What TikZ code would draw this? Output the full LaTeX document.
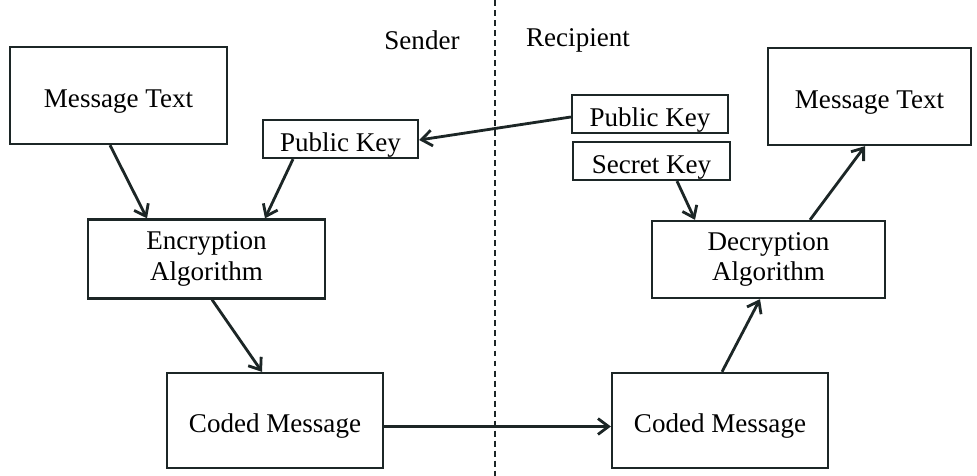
\documentclass[tikz,border=0pt]{standalone}
\usepackage{fontspec}
\setmainfont{Liberation Serif}
\usepackage{xcolor}
\usetikzlibrary{arrows.meta}

\definecolor{ink}{RGB}{28,38,38}

\begin{document}
\begin{tikzpicture}[x=0.02cm,y=-0.02cm,->,>={Straight Barb[length=6pt,width=9pt]},line width=1.6pt,draw=ink]
    \tikzstyle{box}=[rectangle,draw=ink,line width=1.3pt,align=center,inner sep=0pt,font=\fontsize{15.4}{17.5}\selectfont]
    \tikzstyle{one}=[box,text height=14pt,text depth=0pt]
    \tikzstyle{side}=[font=\fontsize{15.4}{17.5}\selectfont]

    \useasboundingbox (0,0) rectangle (977,476);

    % sender side
    \node[one,minimum width=217*0.02cm,minimum height=97*0.02cm] (msg1) at (118.5,95.5) {Message Text};
    \node[one,minimum width=155*0.02cm,minimum height=38*0.02cm] (pk1) at (340.5,139) {Public Key};
    \node[box,minimum width=237*0.02cm,minimum height=79*0.02cm] (enc) at (206.5,259) {Encryption\\Algorithm};
    \node[one,minimum width=216*0.02cm,minimum height=95*0.02cm] (cm1) at (275,420.5) {Coded Message};

    % recipient side
    \node[one,minimum width=156*0.02cm,minimum height=38*0.02cm] (pk2) at (650,114) {Public Key};
    \node[one,minimum width=157*0.02cm,minimum height=38*0.02cm] (sk) at (651.5,161) {Secret Key};
    \node[one,minimum width=203*0.02cm,minimum height=97*0.02cm] (msg2) at (869.5,96.5) {Message Text};
    \node[box,minimum width=233*0.02cm,minimum height=77*0.02cm] (dec) at (768.5,259.5) {Decryption\\Algorithm};
    \node[one,minimum width=216*0.02cm,minimum height=95*0.02cm] (cm2) at (720,420.5) {Coded Message};

    \node[side] (snd) at (422,40) {Sender};
    \node[side] (rcp) at (578,40) {Recipient};

    % divider
    \coordinate (top) at (495,0);
    \coordinate (bot) at (495,476);
    \draw[-,line width=0.6pt,dash pattern=on 3.4pt off 2.3pt] (top) -- (bot);

    \draw ([shift={(-8.5,0)}]msg1.south) -- ([shift={(-59.5,0)}]enc.north);
    \draw ([shift={(-47.5,0)}]pk1.south) -- ([shift={(58.5,0)}]enc.north);
    \draw ([shift={(5.5,0)}]enc.south) -- ([shift={(-13,0)}]cm1.north);
    \draw ([shift={(0,6)}]cm1.east) -- ([shift={(0,6)}]cm2.west);
    \draw ([shift={(2,0)}]cm2.north) -- ([shift={(-8.5,0)}]dec.south);
    \draw ([shift={(25.5,0)}]sk.south) -- ([shift={(-73.5,0)}]dec.north);
    \draw ([shift={(41.5,0)}]dec.north) -- ([shift={(-4.5,0)}]msg2.south);
    \draw ([shift={(0,3)}]pk2.west) -- ([shift={(0,1)}]pk1.east);
\end{tikzpicture}
\end{document}
